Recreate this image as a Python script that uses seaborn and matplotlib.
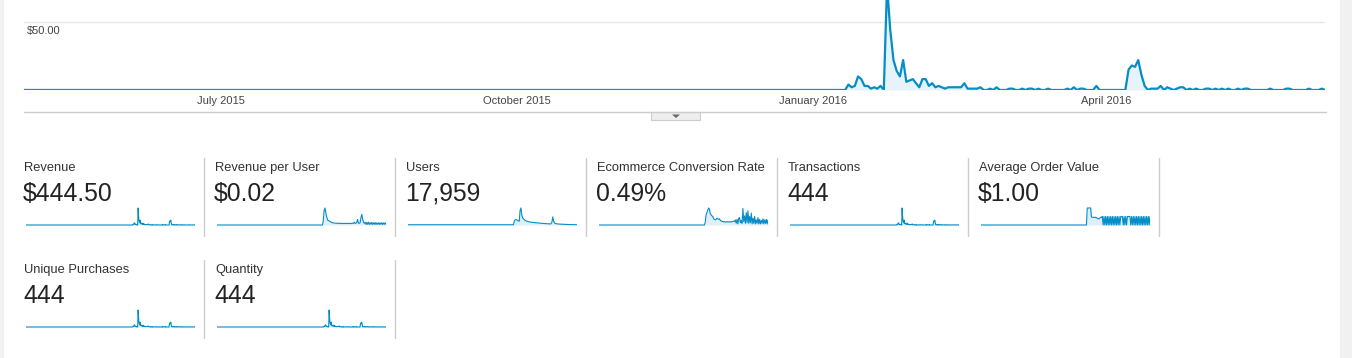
import pandas as pd
import seaborn as sns
import matplotlib.pyplot as plt
from matplotlib.patches import Rectangle, Polygon

sns.set_style('white')
plt.rcParams['font.family'] = ['Liberation Sans', 'DejaVu Sans']

# ---- data -------------------------------------------------------------
# daily revenue ($), 1 May 2015 - 8 Jun 2016; nothing before 12 Jan 2016
start_date = '2015-05-01'
revenue = [0] * 255 + [
    0, 4, 2, 3, 10, 8, 3, 3, 1, 2, 1, 3, 0,
    77, 44, 22, 14, 10, 22, 6, 7, 8, 5, 2, 8, 8, 3, 5, 2,
    3, 2, 1, 2, 2, 2, 2, 2, 5, 1, 1, 1, 1, 2,
    0, 0, 1, 0, 2, 0, 0, 0, 1, 1, 0, 0, 1, 0, 1, 1,
    0, 1, 0, 0, 1, 0, 0, 0, 0, 0, 1, 0, 2, 0, 1,
    1, 0, 0, 0, 3, 0, 0, 0, 0, 0, 0, 0, 0, 0,
    15, 18, 17, 22, 11, 3,
    0, 1, 1, 1, 3, 0, 2, 1, 0, 1, 2, 2, 0, 1, 0, 1,
    0, 0, 1, 1, 0, 1, 0, 1, 0, 1, 0, 0, 1, 0, 1, 1,
    0, 0, 0, 0, 0, 0, 1, 0, 0, 0, 0, 1, 1, 0, 0, 0, 0, 0, 1, 0, 0, 0, 1, 0,
]
# transactions, unique purchases and quantity follow revenue ($1 each)
transactions = revenue

month_ticks = ['2015-07-01', '2015-10-01', '2016-01-01', '2016-04-01']
month_labels = ['July 2015', 'October 2015', 'January 2016', 'April 2016']

# sparkline samples: day 0, then every 2nd day from day 250
spark_days = [0] + list(range(250, 405, 2))
users = [8,
    8, 8, 120, 170, 175, 165, 150, 130, 125, 480,
    550, 330, 230, 200, 175, 150, 135, 125, 115, 110,
    100, 95, 90, 88, 85, 80, 78, 75, 72, 70,
    66, 64, 62, 60, 58, 55, 52, 50, 48, 46,
    44, 42, 40, 38, 36, 35, 40, 90, 260, 130,
    70, 50, 42, 38, 34, 32, 30, 28, 26, 25,
    24, 22, 21, 20, 19, 18, 17, 16, 15, 14,
    14, 13, 12, 12, 11, 11, 10, 10]
revenue_per_user = [0,
    0, 0, 0.03, 0.10, 0.12, 0.09, 0.06, 0.04, 0.03, 0.03,
    0.025, 0.022, 0.018, 0.016, 0.015, 0.014, 0.013, 0.012, 0.013, 0.011,
    0.012, 0.014, 0.010, 0.011, 0.012, 0.010, 0.011, 0.012, 0.010, 0.011,
    0.012, 0.011, 0.010, 0.012, 0.011, 0.010, 0.012, 0.013, 0.011, 0.020,
    0.011, 0.012, 0.018, 0.040, 0.013, 0.012, 0.015, 0.050, 0.075, 0.045,
    0.020, 0.012, 0.020, 0.004, 0.018, 0.005, 0.020, 0.004, 0.016, 0.005,
    0.018, 0.004, 0.016, 0.005, 0.017, 0.004, 0.015, 0.005, 0.016, 0.004,
    0.015, 0.005, 0.016, 0.004, 0.015, 0.005, 0.016, 0.004]
conversion_rate = [0,
    0, 0, 0.5, 1.8, 2.2, 2.6, 3.0, 2.8, 2.0, 1.8,
    1.6, 1.5, 1.1, 1.0, 0.9, 1.0, 1.2, 1.1, 1.0, 1.1,
    0.8, 0.7, 0.65, 0.6, 0.55, 0.6, 0.5, 0.55, 0.6, 0.5,
    0.55, 0.6, 0.5, 0.6, 0.55, 0.6, 0.7, 0.6, 0.9, 0.3,
    1.0, 0.2, 1.2, 1.3, 0.4, 0.8, 0.3, 2.9, 0.6, 1.6,
    0.3, 2.2, 0.4, 2.5, 0.3, 1.5, 0.4, 2.1, 0.2, 1.2,
    0.3, 1.5, 0.2, 0.9, 0.3, 1.3, 0.2, 1.0, 0.2, 0.8,
    0.3, 1.1, 0.2, 0.9, 0.3, 1.0, 0.2, 0.9]
avg_order_value = [0,
    0, 0, 2.0, 2.0, 2.0, 2.0, 2.0, 0.95, 0.9, 0.9,
    0.9, 0.9, 0.9, 0.85, 0.8, 0.75, 0.7, 0.8, 0.9, 0.9,
    1, 0, 1, 0, 1, 0, 1, 0, 1, 0,
    1, 0, 1, 0, 1, 0, 1, 0, 1, 0,
    1, 0, 1, 1, 1, 0, 1, 0, 1, 0,
    1, 1, 1, 1, 0, 1, 0, 1, 0, 1,
    0, 1, 0, 1, 0, 1, 0, 1, 0, 1,
    0, 1, 0, 1, 0, 1, 0, 1]

day_index = list(range(len(revenue)))
cards = [
    ('Revenue', '$444.50', day_index, revenue),
    ('Revenue per User', '$0.02', spark_days, revenue_per_user),
    ('Users', '17,959', spark_days, users),
    ('Ecommerce Conversion Rate', '0.49%', spark_days, conversion_rate),
    ('Transactions', '444', day_index, transactions),
    ('Average Order Value', '$1.00', spark_days, avg_order_value),
    ('Unique Purchases', '444', day_index, transactions),
    ('Quantity', '444', day_index, transactions),
]

BLUE = '#058dc7'
FILL = '#dfeff8'
W, H = 1352, 358

fig = plt.figure(figsize=(W / 100, H / 100), dpi=100)


def px_axes(x0, y0, x1, y1):
    return fig.add_axes([x0 / W, 1 - y1 / H, (x1 - x0) / W, (y1 - y0) / H])


# background layer in pixel coordinates
bg = fig.add_axes([0, 0, 1, 1])
bg.set_xlim(0, W)
bg.set_ylim(H, 0)
bg.axis('off')
bg.add_patch(Rectangle((0, 0), 4, H, color='#f1f1f1', lw=0))
bg.add_patch(Rectangle((1340, 0), 12, H, color='#f1f1f1', lw=0))
bg.plot([24, 1326], [112, 112], color='#cccccc', lw=1)
bg.add_patch(Rectangle((651, 112), 49, 8, facecolor='#eeeeee', edgecolor='#cccccc', lw=0.8))
bg.add_patch(Polygon([(672, 114.5), (680, 114.5), (676, 118)], color='#666666', lw=0))

# ---- main chart ---------------------------------------------------------
dates = pd.date_range(start_date, periods=len(revenue), freq='D')
ax = px_axes(24, -46, 1325, 90)
ax.set_facecolor('none')
ax.axhline(50, color='#e8e8e8', lw=1, zorder=0)
ax.axhline(0, color='#333333', lw=1, zorder=1)
ax.fill_between(dates, revenue, color='#e6f3fa', lw=0, zorder=2)
sns.lineplot(x=dates, y=revenue, ax=ax, color=BLUE, linewidth=1.6, zorder=3)
ax.set_xlim(dates[0], dates[-1])
ax.set_ylim(0, 100)
ax.set_xticks(pd.to_datetime(month_ticks))
ax.set_xticklabels(month_labels, fontsize=8, color='#444444')
ax.set_yticks([])
ax.tick_params(length=0, pad=4)
ax.set_xlabel('')
ax.set_ylabel('')
for s in ax.spines.values():
    s.set_visible(False)
ax.annotate('$50.00', xy=(0, 50), xycoords=('axes fraction', 'data'),
            xytext=(2, -3), textcoords='offset points', ha='left', va='top',
            fontsize=8, color='#444444')

# ---- scorecards with sparklines -----------------------------------------
for i, (title, value, xs, ys) in enumerate(cards):
    row, col = divmod(i, 6)
    left = 191 * col
    top = 102 * row
    bg.text(24 + left, 171 + top, title, fontsize=9.3, color='#333333', va='baseline')
    bg.text(23 + left, 201 + top, value, fontsize=17.8, color='#222222', va='baseline')
    bg.plot([204 + left, 204 + left], [158 + top, 236 + top], color='#cccccc', lw=1)

    sp = px_axes(26 + left, 207 + top, 195 + left, 226 + top)
    sp.set_facecolor('none')
    top_val = max(ys)
    sp.fill_between(xs, ys, color=FILL, lw=0)
    sns.lineplot(x=xs, y=ys, ax=sp, color=BLUE, linewidth=0.8)
    sp.set_xlim(0, 404)
    sp.set_ylim(-top_val / 17, top_val * 18 / 17)
    sp.axis('off')

fig.savefig('out.png', dpi=100, facecolor='white')
